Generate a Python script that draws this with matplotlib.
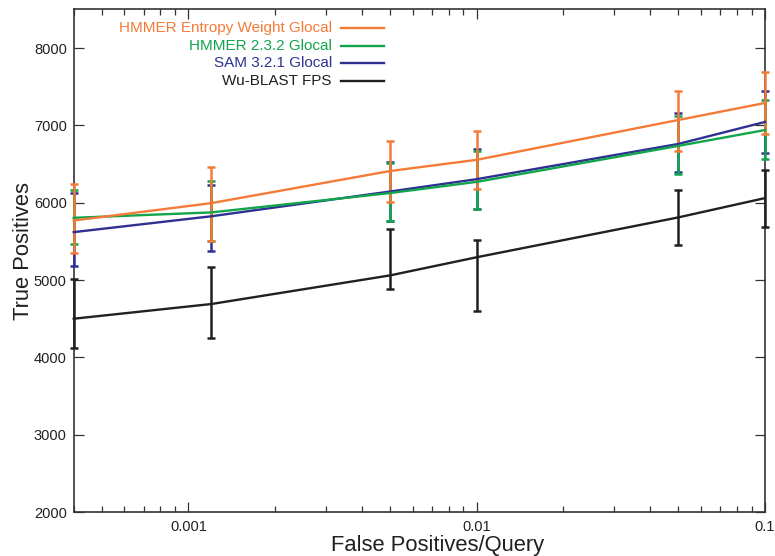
import matplotlib
matplotlib.use("Agg")
import matplotlib.pyplot as plt
import numpy as np
from matplotlib.ticker import LogLocator, FixedLocator, NullFormatter

plt.rcParams['font.family'] = ['Liberation Sans', 'DejaVu Sans']

fpq = [0.0004, 0.0012, 0.005, 0.01, 0.05, 0.1]

series_names = ["Wu-BLAST FPS", "SAM 3.2.1 Glocal", "HMMER 2.3.2 Glocal",
                "HMMER Entropy Weight Glocal"]
series_colors = ["#231f20", "#2e3192", "#13a54b", "#f47a38"]

blast_tp = [4500, 4690, 5060, 5295, 5810, 6060]
blast_hi = [5015, 5175, 5660, 5520, 6165, 6425]
blast_lo = [4125, 4245, 4885, 4600, 5455, 5690]

sam_tp = [5620, 5825, 6145, 6305, 6760, 7045]
sam_hi = [6125, 6225, 6525, 6700, 7160, 7440]
sam_lo = [5180, 5375, 5765, 5925, 6400, 6645]

hmmer_tp = [5805, 5875, 6125, 6270, 6735, 6940]
hmmer_hi = [6165, 6275, 6510, 6665, 7125, 7325]
hmmer_lo = [5470, 5510, 5765, 5915, 6375, 6565]

entropy_tp = [5770, 5995, 6410, 6555, 7070, 7290]
entropy_hi = [6240, 6465, 6800, 6925, 7450, 7695]
entropy_lo = [5350, 5500, 6015, 6180, 6670, 6885]

y_ticks = [2000, 3000, 4000, 5000, 6000, 7000, 8000]
x_ticks = [0.001, 0.01, 0.1]
x_tick_labels = ["0.001", "0.01", "0.1"]

W, H = 775, 556
fig = plt.figure(figsize=(W / 100, H / 100), dpi=100)
ax = fig.add_axes([0.0951, 0.0791, 0.987 - 0.0951, 0.983 - 0.0791])

tp_all = [blast_tp, sam_tp, hmmer_tp, entropy_tp]
hi_all = [blast_hi, sam_hi, hmmer_hi, entropy_hi]
lo_all = [blast_lo, sam_lo, hmmer_lo, entropy_lo]

handles = {}
for name, col, tp, hi, lo in zip(series_names, series_colors, tp_all, hi_all, lo_all):
    tp = np.array(tp)
    yerr = np.vstack([tp - np.array(lo), np.array(hi) - tp])
    eb = ax.errorbar(fpq, tp, yerr=yerr, color=col, lw=1.7, elinewidth=1.8,
                     capsize=3.0, capthick=1.8, clip_on=False, zorder=3)
    handles[name] = eb.lines[0]

ax.set_xscale("log")
ax.set_xlim(0.0004, 0.1)
ax.set_ylim(2000, 8500)

ax.xaxis.set_major_locator(FixedLocator(x_ticks))
ax.set_xticklabels(x_tick_labels)
ax.xaxis.set_minor_locator(LogLocator(base=10, subs=np.arange(2, 10)))
ax.xaxis.set_minor_formatter(NullFormatter())
ax.set_yticks(y_ticks)

ax.tick_params(which="both", direction="in", top=True, right=True,
               color="#333333", labelsize=10.5, labelcolor="#231f20", width=0.9)
ax.tick_params(which="major", length=7, pad=6)
ax.tick_params(which="minor", length=4)
ax.tick_params(axis="y", pad=5)
for sp in ax.spines.values():
    sp.set_color("#333333")
    sp.set_linewidth(1.2)

# axis titles
fig.text(438 / W, 1 - 545 / H, "False Positives/Query", fontsize=15.8,
         color="#231f20", ha="center", va="center")
fig.text(24 / W, 1 - 251 / H, "True Positives", fontsize=15.8, rotation=90,
         color="#231f20", ha="center", va="center")

order = ["HMMER Entropy Weight Glocal", "HMMER 2.3.2 Glocal", "SAM 3.2.1 Glocal",
         "Wu-BLAST FPS"]
leg = fig.legend([handles[n] for n in order], order, loc="upper right",
                 bbox_to_anchor=(390 / W, 1 - 15 / H), frameon=False,
                 markerfirst=False, fontsize=11, handlelength=2.8,
                 handletextpad=0.6, labelspacing=0.23, borderaxespad=0.0)
for txt, n in zip(leg.get_texts(), order):
    txt.set_color(series_colors[series_names.index(n)])
    txt.set_ha("right")
# right-align the legend labels against their handles
leg._legend_box.align = "right"
for vp in leg._legend_handle_box.get_children():
    for hp in vp.get_children():
        hp.align = "center"

fig.savefig("out.png", dpi=100)
